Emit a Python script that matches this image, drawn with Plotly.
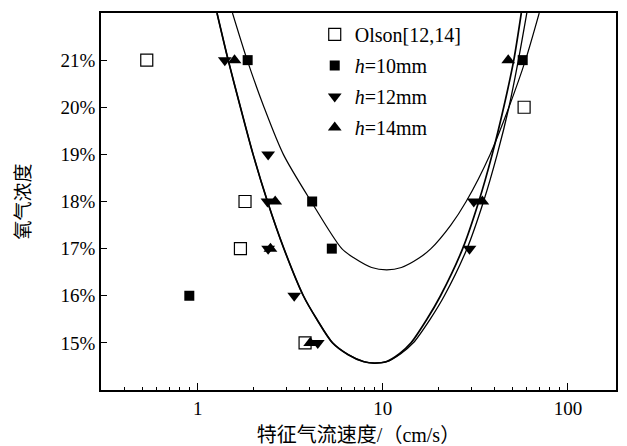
import plotly.graph_objects as go

# ---- data ----
olson_x = [0.53, 1.80, 1.70, 3.8, 58]
olson_y = [21, 18, 17, 15, 20]

h10_x = [1.86, 4.15, 5.3, 0.9, 57]
h10_y = [21, 18, 17, 16, 21]

h12_x = [1.40, 2.40, 2.38, 2.40, 3.32, 4.45, 29.4, 31.0]
h12_y = [21, 19, 18, 17, 16, 15, 17, 18]

h14_x = [1.58, 2.62, 2.47, 4.05, 34.5, 47.6]
h14_y = [21, 18, 17, 15, 18, 21]

# fitted curves
fit10_x = [1.54, 1.85, 2.28, 2.9, 4.1, 6.0, 7.0, 8.7, 10.5, 12.6, 15.7, 18.2, 23.3, 28.2, 38, 48, 59, 70]
fit10_y = [22, 21, 20, 19, 18, 17, 16.8, 16.6, 16.55, 16.6, 16.8, 17, 17.5, 18, 19, 20, 21, 22]

fit12_x = [1.27, 1.46, 1.70, 1.99, 2.38, 2.92, 3.72, 4.4, 5.35, 6.5, 7.9, 9.0, 10.4, 12.3, 14.2, 17.3, 20.5, 27, 33, 39, 45, 51, 56]
fit12_y = [22, 21, 20, 19, 18, 17, 16, 15.5, 15, 14.75, 14.6, 14.57, 14.6, 14.77, 15, 15.5, 16, 17, 18, 19, 20, 21, 22]

fit14_x = [1.27, 1.46, 1.70, 1.99, 2.38, 2.92, 3.72, 4.4, 5.35, 6.5, 7.9, 9.0, 10.5, 12.5, 14.6, 18.0, 21.5, 28.5, 35, 41.5, 48, 54, 60]
fit14_y = [22, 21, 20, 19, 18, 17, 16, 15.5, 15, 14.75, 14.6, 14.57, 14.6, 14.77, 15, 15.5, 16, 17, 18, 19, 20, 21, 22]

y_ticks = [15, 16, 17, 18, 19, 20, 21]
y_tick_text = ["15%", "16%", "17%", "18%", "19%", "20%", "21%"]
x_ticks = [1, 10, 100]
x_tick_text = ["1", "10", "100"]

FONT = "Liberation Serif, Times New Roman, Noto Sans CJK SC, serif"

fig = go.Figure()

for fx, fy, w in [(fit10_x, fit10_y, 1.2), (fit12_x, fit12_y, 1.7), (fit14_x, fit14_y, 1.3)]:
    fig.add_trace(go.Scatter(x=fx, y=fy, mode="lines",
                             line=dict(color="black", width=w, shape="spline", smoothing=0.8),
                             showlegend=False, hoverinfo="skip"))

fig.add_trace(go.Scatter(x=olson_x, y=olson_y, mode="markers", name="Olson[12,14]", legendgroup="a",
                         marker=dict(symbol="square-open", size=12, color="black", line=dict(width=1.2))))
fig.add_trace(go.Scatter(x=h10_x, y=h10_y, mode="markers", name="<i>h</i>=10mm", legendgroup="b",
                         marker=dict(symbol="square", size=10, color="black")))
fig.add_trace(go.Scatter(x=h12_x, y=h12_y, mode="markers", name="<i>h</i>=12mm", legendgroup="c",
                         marker=dict(symbol="triangle-down", size=12, color="black")))
fig.add_trace(go.Scatter(x=h14_x, y=h14_y, mode="markers", name="<i>h</i>=14mm", legendgroup="d",
                         marker=dict(symbol="triangle-up", size=12, color="black")))

minor_vals = [m * 10 ** e for e in (-1, 0, 1, 2) for m in range(2, 10)]

fig.update_layout(
    width=627, height=446,
    margin=dict(l=101, r=11, t=13, b=56),
    plot_bgcolor="white", paper_bgcolor="white",
    font=dict(family=FONT, size=19, color="black"),
    legend=dict(x=0.415, y=0.995, xanchor="left", yanchor="top", bgcolor="rgba(0,0,0,0)",
                font=dict(family=FONT, size=20), tracegroupgap=2, itemwidth=30),
    xaxis=dict(type="log", range=[-0.523, 2.26], tickvals=x_ticks, ticktext=x_tick_text,
               ticks="inside", ticklen=7, tickwidth=1.2, tickcolor="black",
               minor=dict(tickvals=minor_vals, ticks="inside", ticklen=3, tickwidth=1, tickcolor="black"),
               showline=True, linecolor="black", linewidth=1.5, mirror=True, showgrid=False, zeroline=False,
               automargin=False,
               title=dict(text="特征气流速度/（cm/s）", font=dict(size=20, color="black"), standoff=11),
               tickfont=dict(size=19)),
    yaxis=dict(range=[14, 22], tickvals=y_ticks, ticktext=y_tick_text,
               ticks="inside", ticklen=6, tickwidth=1.2, tickcolor="black",
               showline=True, linecolor="black", linewidth=1.5, mirror=True, showgrid=False, zeroline=False,
               automargin=False,
               title=dict(text="氧气浓度", font=dict(size=19, color="black"), standoff=25),
               tickfont=dict(size=19)),
)

fig.write_html("out.html")
